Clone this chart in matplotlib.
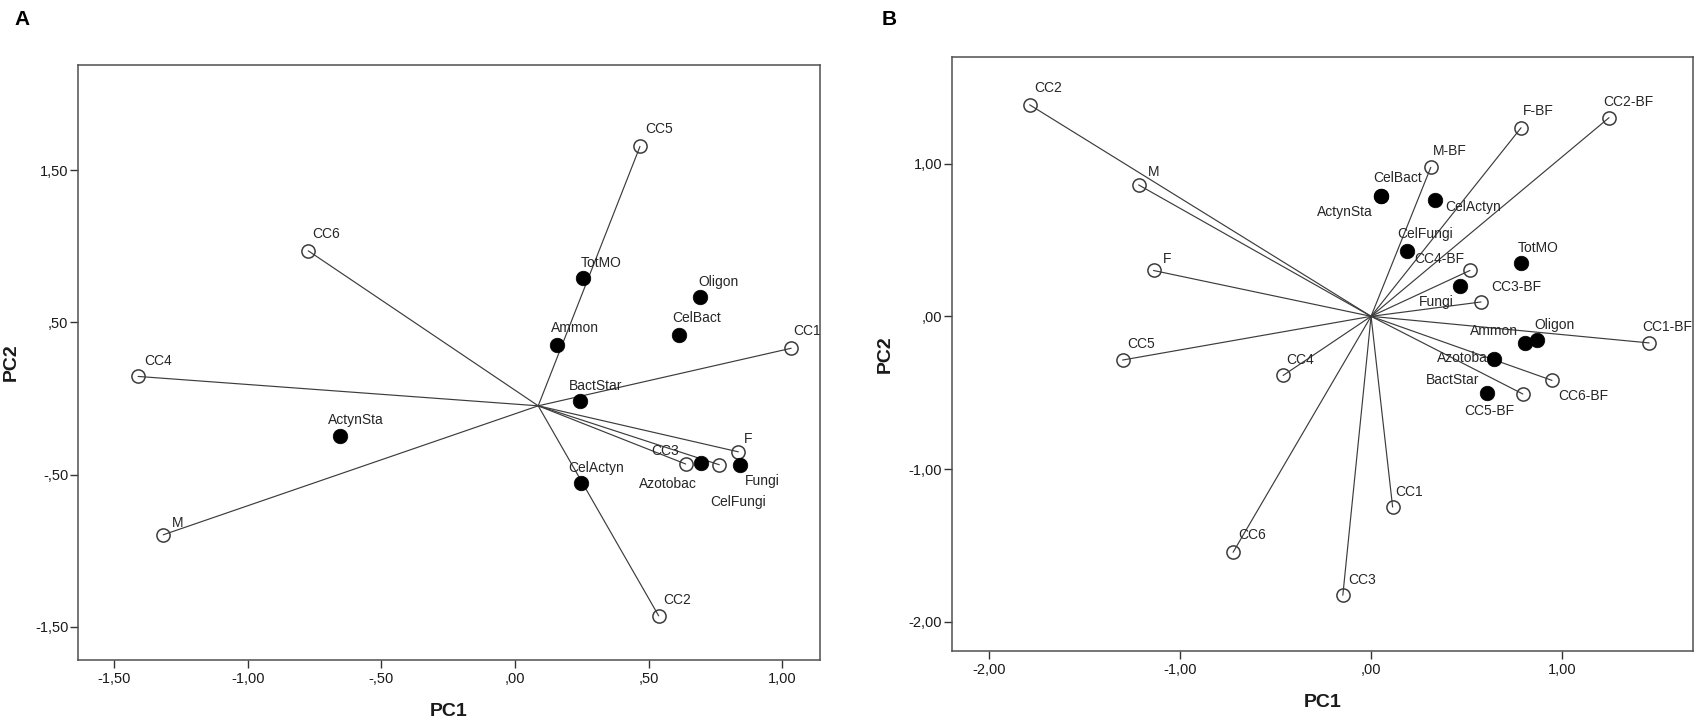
import matplotlib
matplotlib.use('Agg')
import matplotlib.pyplot as plt

plt.rcParams['font.family'] = ['Liberation Sans', 'DejaVu Sans']

# ---------------- Panel A data ----------------
A_origin = (0.087, -0.048)
A_open_names = ['CC1', 'CC2', 'CC3', 'CC4', 'CC5', 'CC6', 'M', 'F', 'CelFungi']
A_open_x = [1.034, 0.538, 0.639, -1.411, 0.468, -0.774, -1.317, 0.836, 0.765]
A_open_y = [0.33, -1.427, -0.43, 0.145, 1.655, 0.97, -0.895, -0.35, -0.435]
A_fill_names = ['TotMO', 'Ammon', 'Oligon', 'CelBact', 'BactStar', 'ActynSta',
                'CelActyn', 'Azotobac', 'Fungi']
A_fill_x = [0.256, 0.156, 0.693, 0.613, 0.243, -0.655, 0.246, 0.697, 0.843]
A_fill_y = [0.79, 0.35, 0.665, 0.42, -0.018, -0.249, -0.557, -0.425, -0.437]
A_xticks = [-1.5, -1.0, -0.5, 0.0, 0.5, 1.0]
A_xticklabels = ['-1,50', '-1,00', '-,50', ',00', ',50', '1,00']
A_yticks = [-1.5, -0.5, 0.5, 1.5]
A_yticklabels = ['-1,50', '-,50', ',50', '1,50']
A_xlim = (-1.636, 1.142)
A_ylim = (-1.717, 2.19)

# ---------------- Panel B data ----------------
B_origin = (0.0, 0.0)
B_open_names = ['CC1', 'CC2', 'CC3', 'CC4', 'CC5', 'CC6', 'M', 'F',
                'CC1-BF', 'CC2-BF', 'CC3-BF', 'CC4-BF', 'CC5-BF', 'CC6-BF', 'M-BF', 'F-BF']
B_open_x = [0.113, -1.789, -0.148, -0.461, -1.302, -0.723, -1.218, -1.14,
            1.457, 1.247, 0.576, 0.518, 0.795, 0.948, 0.313, 0.786]
B_open_y = [-1.248, 1.384, -1.825, -0.387, -0.286, -1.544, 0.86, 0.30,
            -0.174, 1.30, 0.094, 0.30, -0.508, -0.419, 0.975, 1.234]
B_fill_names = ['CelBact', 'ActynSta', 'CelActyn', 'CelFungi', 'TotMO', 'Fungi',
                'Ammon', 'Oligon', 'Azotobac', 'BactStar']
B_fill_x = [0.053, 0.050, 0.334, 0.186, 0.786, 0.464, 0.809, 0.870, 0.645, 0.609]
B_fill_y = [0.790, 0.786, 0.761, 0.427, 0.347, 0.20, -0.174, -0.155, -0.28, -0.50]
B_xticks = [-2.0, -1.0, 0.0, 1.0]
B_xticklabels = ['-2,00', '-1,00', ',00', '1,00']
B_yticks = [-2.0, -1.0, 0.0, 1.0]
B_yticklabels = ['-2,00', '-1,00', ',00', '1,00']
B_xlim = (-2.196, 1.687)
B_ylim = (-2.19, 1.697)

# label placement styles (ha, va, dx px, dy px)
A_lab = {
    'CC4': ('left', 'baseline', 6, 11), 'CC6': ('left', 'baseline', 4, 13),
    'M': ('left', 'baseline', 9, 8), 'ActynSta': ('left', 'baseline', -12, 12),
    'CC5': ('left', 'baseline', 5, 13), 'TotMO': ('left', 'baseline', -3, 11),
    'Ammon': ('left', 'baseline', -6, 13), 'Oligon': ('left', 'baseline', -2, 11),
    'CelBact': ('left', 'baseline', -6, 13), 'CC1': ('left', 'baseline', 2, 13),
    'BactStar': ('left', 'baseline', -11, 11), 'F': ('left', 'baseline', 6, 9),
    'CC3': ('right', 'baseline', -7, 9), 'CelActyn': ('left', 'baseline', -12, 11),
    'Azotobac': ('right', 'top', -4, -14), 'CelFungi': ('left', 'top', -9, -30),
    'Fungi': ('left', 'top', 5, -9), 'CC2': ('left', 'baseline', 5, 12),
}
B_lab = {
    'CC2': ('left', 'baseline', 5, 13), 'M': ('left', 'baseline', 9, 9),
    'F': ('left', 'baseline', 9, 7), 'CC5': ('left', 'baseline', 5, 12),
    'CC6': ('left', 'baseline', 5, 13), 'CC4': ('left', 'baseline', 3, 11),
    'M-BF': ('left', 'baseline', 2, 12), 'F-BF': ('left', 'baseline', 2, 13),
    'CC2-BF': ('left', 'baseline', -6, 12), 'CC1-BF': ('left', 'baseline', -7, 12),
    'CC4-BF': ('right', 'baseline', -6, 7), 'CC3-BF': ('left', 'baseline', 10, 11),
    'CC6-BF': ('left', 'top', 6, -9), 'CC5-BF': ('right', 'top', -8, -10),
    'CC1': ('left', 'baseline', 3, 11), 'CC3': ('left', 'baseline', 5, 11),
    'CelBact': ('left', 'baseline', -8, 14), 'ActynSta': ('right', 'top', -8, -9),
    'CelActyn': ('left', 'center', 10, -7), 'CelFungi': ('left', 'baseline', -9, 13),
    'TotMO': ('left', 'baseline', -3, 11), 'Fungi': ('right', 'center', -6, -16),
    'Ammon': ('right', 'baseline', -7, 8), 'Oligon': ('left', 'baseline', -3, 11),
    'Azotobac': ('right', 'center', 1, 1), 'BactStar': ('right', 'baseline', -8, 9),
}

W, H = 1698, 719
fig = plt.figure(figsize=(W / 100, H / 100), dpi=100)


def px_axes(l, t, r, b):
    return fig.add_axes([l / W, 1 - b / H, (r - l) / W, (b - t) / H])


LINE = '#3c3c3c'
TXT = '#262626'


def draw(ax, origin, on, ox, oy, fn, fx, fy, lab, xlim, ylim, xt, xtl, yt, ytl):
    for x, y in zip(ox, oy):
        ax.plot([origin[0], x], [origin[1], y], color=LINE, lw=0.85, zorder=1,
                solid_capstyle='round')
    ax.plot(ox, oy, 'o', ms=9.5, mfc='none', mec=LINE, mew=1.1, ls='none', zorder=3)
    ax.plot(fx, fy, 'o', ms=10.5, mfc='black', mec='black', mew=0.5, ls='none', zorder=3)
    for names, xs, ys in ((on, ox, oy), (fn, fx, fy)):
        for n, x, y in zip(names, xs, ys):
            ha, va, dx, dy = lab[n]
            ax.annotate(n, (x, y), xytext=(dx, dy), textcoords='offset pixels',
                        ha=ha, va=va, fontsize=10, color=TXT, zorder=2)
    ax.set_xlim(*xlim)
    ax.set_ylim(*ylim)
    ax.set_xticks(xt)
    ax.set_xticklabels(xtl)
    ax.set_yticks(yt)
    ax.set_yticklabels(ytl)
    for s in ax.spines.values():
        s.set_color('#505050')
        s.set_linewidth(1.1)
    ax.tick_params(axis='both', direction='out', length=5.5, width=1.0,
                   color='#333333', labelsize=10.5, labelcolor='#1a1a1a')
    ax.tick_params(axis='x', pad=3)
    ax.tick_params(axis='y', pad=1.5)
    ax.set_xlabel('PC1', fontsize=14, fontweight='bold', color='#1a1a1a')
    ax.set_ylabel('PC2', fontsize=14, fontweight='bold', color='#1a1a1a')
    ax.xaxis.label.set_va('center')
    ax.yaxis.label.set_va('center')
    ax.xaxis.set_label_coords(0.5, -0.086)
    ax.yaxis.set_label_coords(-0.090, 0.5)


axA = px_axes(78, 65, 820, 660)
draw(axA, A_origin, A_open_names, A_open_x, A_open_y, A_fill_names, A_fill_x, A_fill_y,
     A_lab, A_xlim, A_ylim, A_xticks, A_xticklabels, A_yticks, A_yticklabels)

axB = px_axes(952, 57, 1693, 651)
draw(axB, B_origin, B_open_names, B_open_x, B_open_y, B_fill_names, B_fill_x, B_fill_y,
     B_lab, B_xlim, B_ylim, B_xticks, B_xticklabels, B_yticks, B_yticklabels)

fig.text(14 / W, 1 - 25 / H, 'A', fontsize=15, fontweight='bold',
         family=['Liberation Sans Narrow', 'Liberation Sans', 'DejaVu Sans'],
         ha='left', va='baseline')
fig.text(882 / W, 1 - 25 / H, 'B', fontsize=15, fontweight='bold',
         family=['Liberation Sans Narrow', 'Liberation Sans', 'DejaVu Sans'],
         ha='left', va='baseline')

fig.savefig('out.png', dpi=100)
